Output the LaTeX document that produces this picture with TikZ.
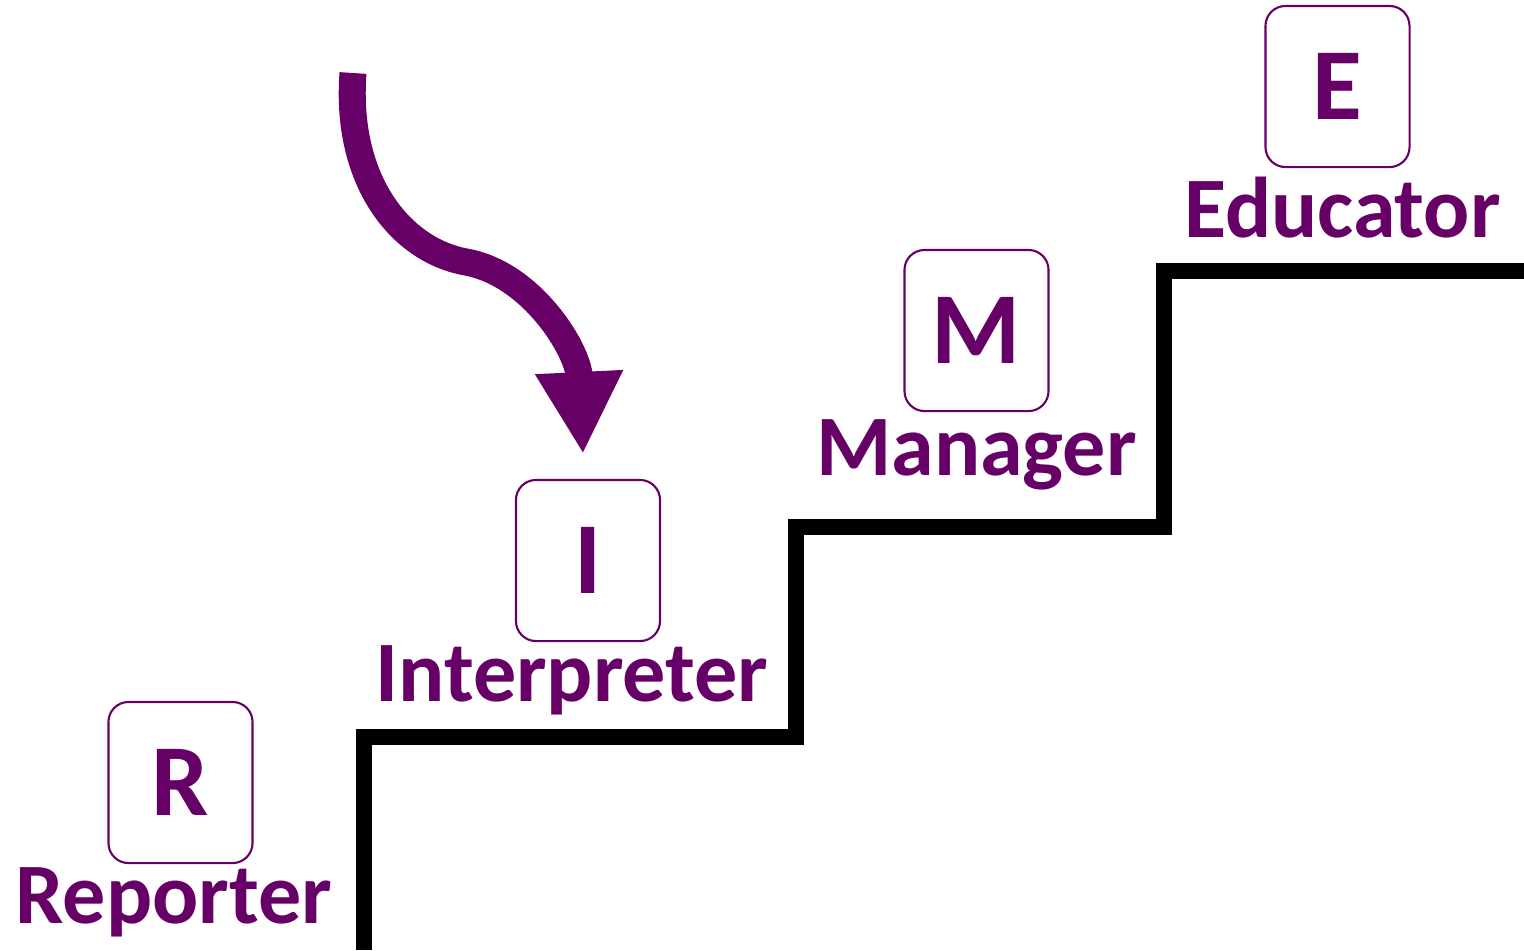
\documentclass[tikz,border=0pt]{standalone}
\usepackage{fontspec}
\setmainfont{Carlito}
\usepackage{xcolor}
\usepackage{tikz}
\usetikzlibrary{arrows.meta, positioning}

\definecolor{rolepurple}{HTML}{660066}

\begin{document}
\begin{tikzpicture}[
    x=0.01cm, y=-0.01cm,
    font=\bfseries,
    letterbox/.style={
      draw=rolepurple,
      line width=0.6pt,
      rounded corners=0.2cm,
      text=rolepurple,
      inner sep=0pt,
      minimum width=1.44cm,
      minimum height=1.61cm,
      font=\bfseries\fontsize{29}{30}\selectfont
    },
    rolelabel/.style={
      anchor=base,
      inner sep=0pt,
      text=rolepurple,
      font=\bfseries\fontsize{24.5}{26}\selectfont
    },
    stairs/.style={line width=0.16cm, black, miter limit=10},
    bigarrow/.style={line width=0.27cm, rolepurple, -{Triangle[length=0.82cm, width=0.82cm]}}
]
\useasboundingbox (0,0) rectangle (1524,950);
% letter boxes
\node[letterbox] (rbox) at (180.5,782.5) {R};
\node[letterbox] (ibox) at (588,560.5) {I};
\node[letterbox] (mbox) at (976.5,330.5) {M};
\node[letterbox] (ebox) at (1337.5,86.5) {E};
% role names
\node[rolelabel] (rlabel) at (174,923) {Reporter};
\node[rolelabel] (ilabel) at (572,701) {Interpreter};
\node[rolelabel] (mlabel) at (976.5,475) {Manager};
\node[rolelabel] (elabel) at (1342.5,237) {Educator};
% staircase
\draw[stairs] (364,950) -- (364,736.5) -- (796,736.5) -- (796,526.5)
  -- (1164,526.5) -- (1164,271) -- (1524,271);
% curved arrow
\coordinate (arrowstart) at (353,73);
\coordinate (arrowbend) at (466,262);
\coordinate (arrowtip) at (583,454);
\draw[bigarrow] (arrowstart) .. controls (345,180) and (400,250) .. (arrowbend)
  .. controls (532,274) and (578,350) .. (arrowtip);
\end{tikzpicture}
\end{document}
